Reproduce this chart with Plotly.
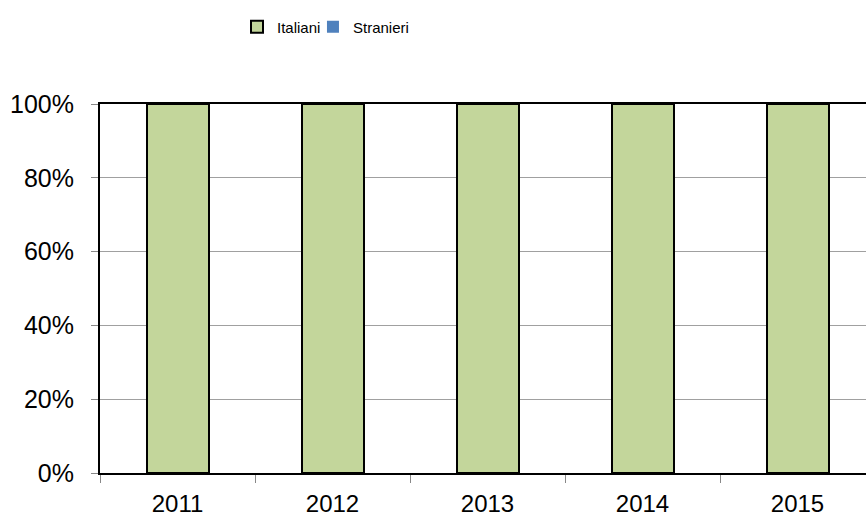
import plotly.graph_objects as go

years = ["2011", "2012", "2013", "2014", "2015"]
italiani = [100, 100, 100, 100, 100]
stranieri = [0, 0, 0, 0, 0]
y_ticks = [0, 20, 40, 60, 80, 100]
y_labels = ["0%", "20%", "40%", "60%", "80%", "100%"]

fig = go.Figure()
fig.add_trace(go.Bar(
    x=years, y=italiani, name="Italiani",
    marker=dict(color="#C3D69B", line=dict(color="#000000", width=2)),
    width=0.4, legend="legend", showlegend=True,
))
fig.add_trace(go.Bar(
    x=years, y=stranieri, name="Stranieri",
    marker=dict(color="#4F81BD", line=dict(color="#4F81BD", width=0)),
    width=0.4, legend="legend2", showlegend=True,
))

legend_common = dict(
    orientation="h", xref="container", yref="container",
    y=0.948, xanchor="left", yanchor="middle",
    font=dict(size=15, color="#000000"),
    itemwidth=30, bgcolor="rgba(0,0,0,0)",
    visible=True,
)

fig.update_layout(
    width=866, height=518,
    barmode="stack",
    showlegend=True,
    plot_bgcolor="white", paper_bgcolor="white",
    margin=dict(l=100, r=0, t=104, b=45, autoexpand=False),
    font=dict(family="Liberation Sans, Arial, sans-serif", color="#000000"),
    legend=dict(x=0.2737, **legend_common),
    legend2=dict(x=0.3614, **legend_common),
    xaxis=dict(
        type="category",
        range=[-0.5, 4.5 - 9 / 155],
        automargin=False,
        showline=True, linecolor="#000000", linewidth=2, mirror=True,
        ticks="outside", tickson="boundaries", ticklen=8, tickcolor="#888888",
        ticklabelstandoff=8,
        tickfont=dict(size=24),
        showgrid=False,
    ),
    yaxis=dict(
        range=[0, 100],
        automargin=False,
        tickvals=y_ticks, ticktext=y_labels,
        showline=True, linecolor="#000000", linewidth=2,
        ticks="outside", ticklen=7, tickcolor="#888888",
        ticklabelstandoff=12,
        tickfont=dict(size=25),
        showgrid=True, gridcolor="#A0A0A0", gridwidth=1,
        zeroline=False,
    ),
)

fig.write_html("out.html", config={"displayModeBar": False},
               post_script="document.body.style.margin='0';")
